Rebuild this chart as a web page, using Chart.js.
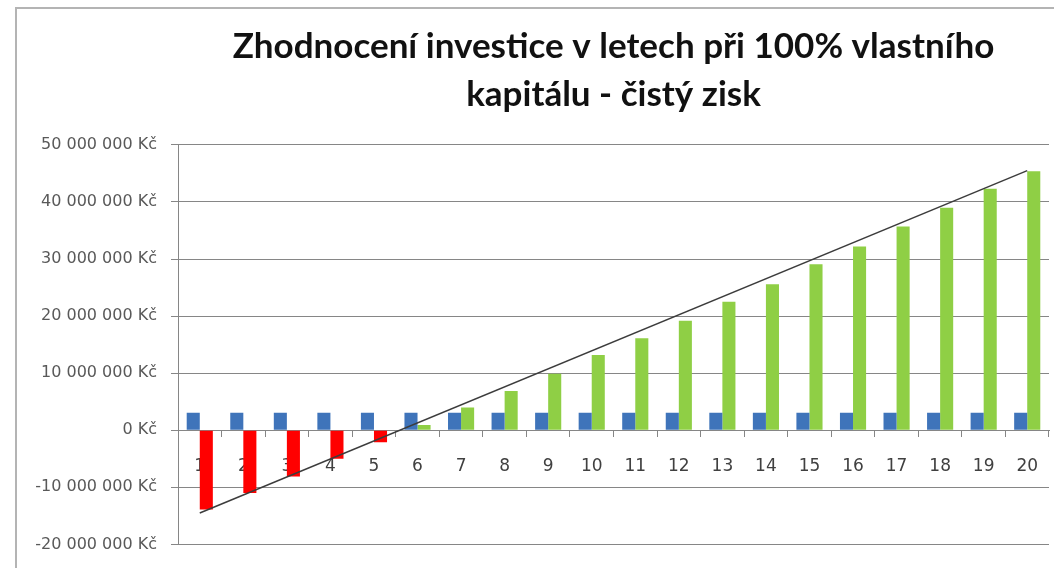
<!DOCTYPE html>
<html>
<head>
<meta charset="utf-8">
<script src="https://cdn.jsdelivr.net/npm/chart.js@4/dist/chart.umd.min.js"></script>
<style>
  html, body { margin: 0; padding: 0; background: #fff; }
  #wrap { position: relative; width: 1054px; height: 568px; overflow: hidden; }
  #frame {
    position: absolute; left: 15px; top: 7px; width: 1100px; height: 600px;
    border: 2px solid #b4b4b4; pointer-events: none;
  }
</style>
</head>
<body>
<div id="wrap">
  <canvas id="chart" width="1054" height="568"></canvas>
  <div id="frame"></div>
</div>
<script>
const roky = ['1', '2', '3', '4', '5', '6', '7', '8', '9', '10',
  '11', '12', '13', '14', '15', '16', '17', '18', '19', '20'];

// roční výnos (modré sloupce)
const rocniVynos = [3050000, 3050000, 3050000, 3050000, 3050000, 3050000, 3050000, 3050000, 3050000, 3050000,
  3050000, 3050000, 3050000, 3050000, 3050000, 3050000, 3050000, 3050000, 3050000, 3050000];

// kumulovaný čistý zisk
const cistyZisk = [-13900000, -11000000, -8100000, -5000000, -2100000, 900000, 4000000, 6900000, 9900000, 13200000,
  16100000, 19200000, 22500000, 25600000, 29100000, 32200000, 35700000, 39000000, 42300000, 45400000];

// spojnice trendu - jen krajní body
const trend = [-14500000, null, null, null, null, null, null, null, null, null,
  null, null, null, null, null, null, null, null, null, 45500000];

const yTicks = [-20000000, -10000000, 0, 10000000, 20000000, 30000000, 40000000, 50000000];

function kc(v) {
  const s = String(Math.abs(v)).replace(/\B(?=(\d{3})+(?!\d))/g, ' ');
  return (v < 0 ? '-' : '') + s + ' Kč';
}

const ctx = document.getElementById('chart');

new Chart(ctx, {
  data: {
    labels: roky,
    datasets: [{
      type: 'line',
      label: 'trend',
      data: trend,
      spanGaps: true,
      borderColor: '#3c3c3c',
      borderWidth: 1.5,
      pointRadius: 0,
      order: 0
    }, {
      type: 'bar',
      label: 'roční výnos',
      data: rocniVynos,
      backgroundColor: '#3f74ba',
      categoryPercentage: 0.6,
      barPercentage: 1.0,
      order: 1
    }, {
      type: 'bar',
      label: 'čistý zisk',
      data: cistyZisk,
      backgroundColor: c => (c.raw < 0 ? '#ff0000' : '#8fcf45'),
      categoryPercentage: 0.6,
      barPercentage: 1.0,
      order: 1
    }]
  },
  options: {
    responsive: false,
    animation: false,
    layout: { padding: { left: 18, right: 5, top: 0, bottom: 19 } },
    plugins: {
      legend: { display: false },
      tooltip: { enabled: false },
      title: {
        display: true,
        fullSize: false,
        text: ['Zhodnocení investice v letech při 100% vlastního', 'kapitálu - čistý zisk'],
        color: '#111',
        font: { family: 'Lato', size: 35, weight: 'bold', lineHeight: 1.37 },
        padding: { top: 23, bottom: 26 }
      }
    },
    scales: {
      x: {
        position: { y: 0 },
        afterFit: s => { s.paddingLeft = 0; s.paddingRight = 0; },
        grid: {
          display: true,
          drawOnChartArea: false,
          drawTicks: true,
          tickLength: 6,
          offset: true,
          color: '#868686'
        },
        border: { display: true, color: '#868686' },
        ticks: {
          color: '#404040',
          maxRotation: 0,
          autoSkip: false,
          padding: 20,
          font: { family: 'DejaVu Sans', size: 17 }
        }
      },
      y: {
        min: -20000000,
        max: 50000000,
        afterBuildTicks: s => { s.ticks = yTicks.map(v => ({ value: v })); },
        afterFit: s => { s.width = 160; },
        grid: { color: '#868686', tickLength: 7 },
        border: { display: true, color: '#868686' },
        ticks: {
          color: '#595959',
          padding: 14,
          font: { family: 'DejaVu Sans', size: 16 },
          callback: v => kc(v)
        }
      }
    }
  }
});
</script>
</body>
</html>
